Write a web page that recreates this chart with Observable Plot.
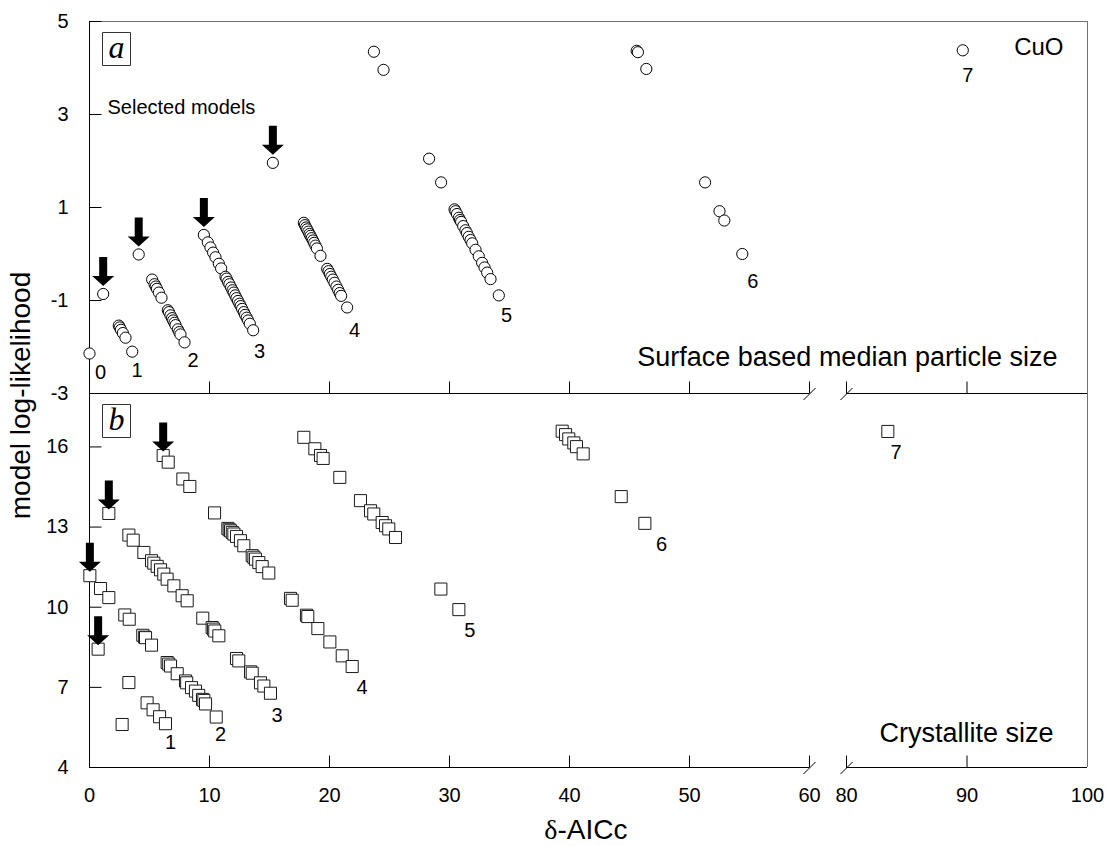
<!DOCTYPE html>
<html><head><meta charset="utf-8">
<script src="https://cdn.jsdelivr.net/npm/d3@7"></script>
<script src="https://cdn.jsdelivr.net/npm/@observablehq/plot@0.6"></script>
<style>
html,body{margin:0;padding:0;background:#fff;}
#chart{position:relative;width:1106px;height:846px;}
#chart svg{position:absolute;left:0;top:0;}
</style></head><body><div id="chart"></div>
<script>
// ---------- data ----------
const xTicks = [0,10,20,30,40,50,60,80,90,100];
const innerXTicks = [10,20,30,40,50,90];
const breakTicks = [60,80];
const axisSegments = [[0,60],[80,100]];
const surfaceYTicks = [-3,-1,1,3,5];
const crystYTicks = [4,7,10,13,16];

// panel a: [delta-AICc, log-likelihood]
const surfacePoints = [
 [0.0,-2.14],
 [1.14,-0.86],[2.44,-1.54],[2.52,-1.58],[2.62,-1.63],[2.78,-1.70],[3.0,-1.80],[3.56,-2.10],
 [4.1,-0.01],[5.22,-0.55],[5.42,-0.65],[5.52,-0.70],[5.62,-0.75],[5.78,-0.83],[6.0,-0.94],[6.53,-1.21],[6.62,-1.25],[6.75,-1.32],[6.88,-1.38],[6.97,-1.43],[7.08,-1.48],[7.17,-1.53],[7.36,-1.62],[7.48,-1.68],[7.58,-1.73],[7.92,-1.90],
 [9.53,0.41],[9.86,0.25],[10.08,0.14],[10.3,0.03],[10.5,-0.07],[10.78,-0.21],[10.97,-0.31],[11.33,-0.49],[11.42,-0.53],[11.55,-0.60],[11.66,-0.65],[11.8,-0.72],[11.92,-0.78],[12.02,-0.83],[12.14,-0.89],[12.25,-0.95],[12.38,-1.01],[12.5,-1.07],[12.6,-1.12],[12.72,-1.18],[12.86,-1.25],[12.97,-1.31],[13.1,-1.37],[13.22,-1.43],[13.36,-1.50],[13.64,-1.64],
 [15.28,1.96],[17.86,0.67],[17.95,0.62],[18.05,0.57],[18.14,0.53],[18.24,0.48],[18.33,0.43],[18.42,0.39],[18.52,0.34],[18.62,0.29],[18.72,0.24],[18.83,0.18],[18.95,0.12],[19.25,-0.04],[19.81,-0.32],[19.92,-0.37],[20.03,-0.43],[20.15,-0.49],[20.28,-0.55],[20.42,-0.62],[20.58,-0.70],[20.72,-0.77],[20.85,-0.84],[20.97,-0.90],[21.47,-1.15],
 [23.7,4.35],[24.5,3.96],[28.3,2.05],[29.3,1.54],[30.42,0.96],[30.5,0.92],[30.62,0.86],[30.78,0.78],[30.88,0.73],[30.97,0.69],[31.14,0.60],[31.33,0.51],[31.45,0.45],[31.6,0.37],[31.75,0.30],[31.89,0.23],[32.17,0.09],[32.44,-0.05],[32.72,-0.19],[32.92,-0.29],[33.14,-0.40],[33.42,-0.54],[34.11,-0.89],
 [45.6,4.37],[45.7,4.34],[46.4,3.98],[51.3,1.54],[52.5,0.92],[52.9,0.72],[54.4,0.0],
 [89.65,4.38]
];
const surfaceSelected = [[1.14,-0.86],[4.1,-0.01],[9.53,0.41],[15.28,1.96]];
const surfaceLabels = [["0",0.92,-2.55],["1",3.97,-2.51],["2",8.64,-2.29],["3",14.17,-2.1],["4",22.08,-1.65],["5",34.75,-1.32],["6",55.28,-0.6],["7",90.07,3.84]];
const surfaceNotes = [["Selected models",1.5,3.015]];

// panel b
const crystPoints = [
 [2.72,5.61],
 [0.72,8.43],[3.28,7.18],[4.8,6.42],[5.3,6.16],[5.84,5.9],[6.33,5.64],
 [0.03,11.18],[0.92,10.7],[1.61,10.36],[2.94,9.71],[3.31,9.55],[4.44,8.95],[4.6,8.88],[4.67,8.86],[5.17,8.58],[6.47,7.93],[6.6,7.87],[6.75,7.8],[7.31,7.51],[8.0,7.24],[8.1,7.17],[8.5,6.99],[8.83,6.86],[9.1,6.7],[9.42,6.55],[9.53,6.51],[9.67,6.38],[10.56,5.89],
 [1.61,13.51],[3.28,12.7],[3.64,12.51],[4.53,12.05],[5.17,11.74],[5.36,11.65],[5.64,11.53],[5.92,11.40],[6.19,11.24],[6.47,11.05],[7.03,10.80],[7.72,10.43],[8.14,10.24],[9.44,9.59],[10.22,9.24],[10.33,9.18],[10.44,9.11],[10.78,8.93],[12.25,8.08],[12.44,7.99],[13.42,7.58],[13.56,7.53],[14.25,7.17],[14.53,7.05],[15.08,6.78],
 [6.14,15.68],[6.56,15.43],[7.78,14.8],[8.36,14.52],[10.42,13.53],[11.53,12.95],[11.64,12.9],[11.75,12.86],[11.9,12.8],[12.03,12.74],[12.25,12.65],[12.58,12.49],[12.86,12.30],[13.56,11.93],[13.7,11.87],[13.83,11.80],[14.11,11.67],[14.39,11.52],[14.94,11.28],[16.75,10.33],[16.89,10.26],[18.08,9.70],[18.19,9.65],[19.03,9.20],[20.03,8.70],[21.06,8.18],[21.89,7.78],
 [17.86,16.36],[18.78,15.93],[19.25,15.68],[19.47,15.57],[20.86,14.86],[22.58,13.99],[23.42,13.61],[23.69,13.49],[24.39,13.17],[24.67,13.05],[24.94,12.93],[25.5,12.61],[29.28,10.68],[30.78,9.91],
 [39.39,16.59],[39.67,16.46],[39.94,16.30],[40.36,16.15],[40.58,16.01],[41.14,15.74],[44.31,14.14],[46.28,13.14],
 [83.43,16.58]
];
const crystSelected = [[0.03,11.18],[0.72,8.43],[1.61,13.51],[6.14,15.68]];
const crystLabels = [["1",6.75,4.93],["2",10.92,5.24],["3",15.64,5.93],["4",22.72,6.99],["5",31.69,9.11],["6",47.67,12.36],["7",84.12,15.8]];

// ---------- styling helpers ----------
const W = 1106, H = 846;
const sans = "'Liberation Sans', Arial, sans-serif";
const serif = "'Liberation Serif', 'Times New Roman', serif";
const frameGray = "#707070";
const xScale = {type: "linear", domain: [0,60,80,100], range: [89,809,846,1087]};

const tickUp = {draw(c){c.moveTo(0,0); c.lineTo(0,-12);}};
const tickRight = {draw(c){c.moveTo(0,0); c.lineTo(12,0);}};
const breakMark = {draw(c){c.moveTo(0,0); c.lineTo(0,-12); c.moveTo(-6,6.5); c.lineTo(6,-5.5);}};
const downArrow = {draw(c){c.moveTo(-4,-14.5); c.lineTo(4,-14.5); c.lineTo(4,4.5); c.lineTo(11,4.5); c.lineTo(0,14.5); c.lineTo(-11,4.5); c.lineTo(-4,4.5); c.closePath();}};
const labelBox = {draw(c){c.rect(-14,-16.5,28,33);}};

function frameMarks(yBottom, yTicks) {
  return [
    Plot.ruleX([100], {stroke: frameGray, strokeWidth: 1}),
    Plot.ruleX([0], {stroke: "black", strokeWidth: 1}),
    Plot.ruleY(axisSegments, {x1: d => d[0], x2: d => d[1], y: () => yBottom, stroke: "black", strokeWidth: 1}),
    Plot.dot(innerXTicks, {x: d => d, y: () => yBottom, symbol: tickUp, fill: "none", stroke: "black", strokeWidth: 1}),
    Plot.dot(breakTicks, {x: d => d, y: () => yBottom, symbol: breakMark, fill: "none", stroke: "black", strokeWidth: 1}),
    Plot.dot(yTicks, {x: () => 0, y: d => d, symbol: tickRight, fill: "none", stroke: "black", strokeWidth: 1})
  ];
}

function panelLetter(letter) {
  return [
    Plot.dot([letter], {frameAnchor: "top-left", symbol: labelBox, dx: 27, dy: 27.5, fill: "white", stroke: "#333", strokeWidth: 1}),
    Plot.text([letter], {frameAnchor: "top-left", text: d => d, textAnchor: "middle", lineAnchor: "middle", dx: 27, dy: 26, fontFamily: serif, fontStyle: "italic", fontSize: 32, fill: "black"})
  ];
}

const plotA = Plot.plot({
  width: W, height: H,
  marginLeft: 89, marginRight: 19, marginTop: 21, marginBottom: H - 393,
  style: {fontFamily: sans, fontSize: "20px", background: "transparent", color: "black", overflow: "visible"},
  x: {...xScale, axis: null},
  y: {domain: [-3,5], ticks: surfaceYTicks, tickSize: 0, tickPadding: 21, tickFormat: d => String(d), label: null},
  marks: [
    Plot.ruleY([5], {stroke: frameGray, strokeWidth: 1}),
    ...frameMarks(-3, surfaceYTicks),
    Plot.dot(surfacePoints, {x: d => d[0], y: d => d[1], r: 5.6, fill: "white", stroke: "black", strokeWidth: 1}),
    Plot.dot(surfaceSelected, {x: d => d[0], y: d => d[1], symbol: downArrow, fill: "black", stroke: "none", dy: -22.5}),
    Plot.text(surfaceLabels, {x: d => d[1], y: d => d[2], text: d => d[0], fontSize: 20, fill: "black"}),
    Plot.text(surfaceNotes, {x: d => d[1], y: d => d[2], text: d => d[0], fontSize: 20, textAnchor: "start", lineAnchor: "bottom", fill: "black"}),
    Plot.text(["CuO"], {frameAnchor: "top-right", text: d => d, textAnchor: "end", lineAnchor: "top", dx: -24, dy: 16, fontSize: 24, fill: "black"}),
    Plot.text(["Surface based median particle size"], {frameAnchor: "bottom-right", text: d => d, textAnchor: "end", lineAnchor: "bottom", dx: -30, dy: -28, fontSize: 27, fill: "black"}),
    ...panelLetter("a"),
    Plot.text(["model log-likelihood"], {frameAnchor: "bottom-left", text: d => d, rotate: -90, textAnchor: "middle", lineAnchor: "bottom", dx: -60, dy: 2, fontSize: 28, fill: "black"})
  ]
});

const plotB = Plot.plot({
  width: W, height: H,
  marginLeft: 89, marginRight: 19, marginTop: 393, marginBottom: H - 767,
  style: {fontFamily: sans, fontSize: "20px", background: "transparent", color: "black", overflow: "visible"},
  x: {...xScale, ticks: xTicks, tickSize: 0, tickPadding: 20, label: null},
  y: {domain: [4,18], ticks: crystYTicks, tickSize: 0, tickPadding: 21, tickFormat: d => String(d), label: null},
  marks: [
    ...frameMarks(4, crystYTicks),
    Plot.dot(crystPoints, {x: d => d[0], y: d => d[1], symbol: "square", r: 6.8, fill: "white", stroke: "#1a1a1a", strokeWidth: 1}),
    Plot.dot(crystSelected, {x: d => d[0], y: d => d[1], symbol: downArrow, fill: "black", stroke: "none", dy: -18.5}),
    Plot.text(crystLabels, {x: d => d[1], y: d => d[2], text: d => d[0], fontSize: 20, fill: "black"}),
    Plot.text(["Crystallite size"], {frameAnchor: "bottom-right", text: d => d, textAnchor: "end", lineAnchor: "bottom", dx: -34, dy: -26, fontSize: 27, fill: "black"}),
    ...panelLetter("b"),
    Plot.text(["δ"], {frameAnchor: "bottom", text: d => d, textAnchor: "end", lineAnchor: "bottom", dx: -31, dy: 71, fontFamily: serif, fontSize: 28, fill: "black"}),
    Plot.text(["-AICc"], {frameAnchor: "bottom", text: d => d, textAnchor: "start", lineAnchor: "bottom", dx: -31, dy: 71, fontSize: 28, fill: "black"})
  ]
});

const chart = document.getElementById("chart");
chart.appendChild(plotA);
chart.appendChild(plotB);
</script></body></html>
